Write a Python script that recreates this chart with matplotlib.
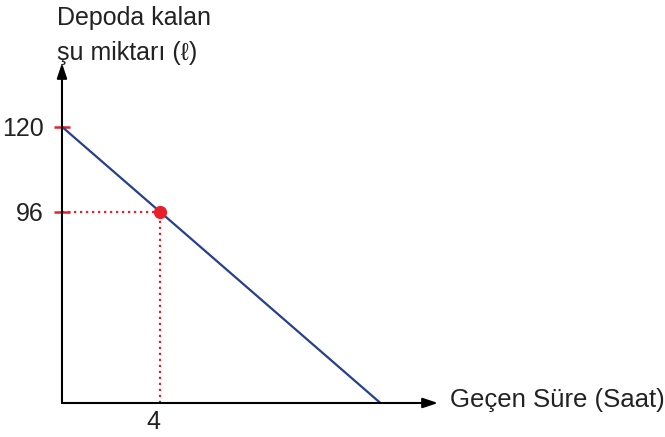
import numpy as np
import matplotlib
matplotlib.use("Agg")
import matplotlib.pyplot as plt

plt.rcParams['font.family'] = ['Liberation Sans', 'DejaVu Sans']

# data: remaining water in the tank vs elapsed time
line_x = [0, 20]
line_y = [120, 0]
point_x = 4
point_y = 96
yticks = [96, 120]
xticks = [4]

blue = '#263f8f'
red = '#e8202a'
fs = 18

fig = plt.figure(figsize=(6.65, 4.37), dpi=100)
ax = fig.add_axes([0.0932, 0.0778, 0.5654, 0.778])

ax.plot(line_x, line_y, color=blue, lw=1.6, zorder=3)
ax.plot([0, point_x], [point_y, point_y], color=red, lw=1.6,
        linestyle=(0, (1, 1.7)), zorder=2)
ax.plot([point_x, point_x], [42, point_y], color=red, lw=1.6,
        linestyle=(0, (1, 1.7)), zorder=2)
ax.plot(point_x, point_y, 'o', color=red, markersize=8.5, zorder=4)

ax.set_xlim(0, 15.35)
ax.set_ylim(42, 138)

for s in ax.spines.values():
    s.set_visible(False)
arr = dict(arrowstyle='-|>,head_length=0.9,head_width=0.3', color='black', lw=1.5,
           shrinkA=0, shrinkB=0)
ax.annotate('', xy=(1, 0), xytext=(0, 0), xycoords='axes fraction',
            textcoords='axes fraction', arrowprops=arr)
ax.annotate('', xy=(0, 1), xytext=(0, 0), xycoords='axes fraction',
            textcoords='axes fraction', arrowprops=arr)

ax.set_yticks(yticks)
ax.set_yticklabels([str(v) for v in yticks], fontsize=fs, color='#222222')
ax.tick_params(axis='y', direction='inout', length=12, width=1.8, colors=red,
               labelcolor='#222222', pad=7)
ax.set_xticks(xticks)
ax.set_xticklabels([str(v) for v in xticks], fontsize=fs, color='#222222',
                   ha='right')
ax.tick_params(axis='x', length=0, pad=5)

fig.text(0.677, 0.085, 'Geçen Süre (Saat)', fontsize=18.5, color='#222222',
         va='center', ha='left')
fig.text(0.086, 0.958, 'Depoda kalan', fontsize=fs, color='#222222',
         va='center', ha='left')
fig.text(0.086, 0.879, 'şu miktarı (ℓ)', fontsize=fs, color='#222222',
         va='center', ha='left')

fig.savefig('out.png', dpi=100)
